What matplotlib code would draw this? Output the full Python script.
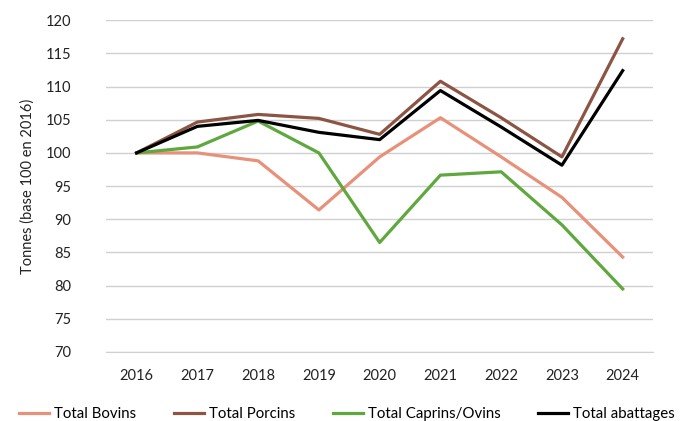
import matplotlib.pyplot as plt

years = ["2016", "2017", "2018", "2019", "2020", "2021", "2022", "2023", "2024"]
bovins = [100, 100, 98.8, 91.4, 99.4, 105.3, 99.4, 93.3, 84.3]
porcins = [100, 104.65, 105.8, 105.2, 102.8, 110.8, 105.3, 99.4, 117.2]
caprins_ovins = [100, 100.9, 104.8, 100.0, 86.5, 96.65, 97.15, 89.15, 79.5]
abattages = [100, 104.0, 104.9, 103.1, 102.0, 109.4, 103.9, 98.15, 112.4]

plt.rcParams['font.family'] = ['Lato', 'DejaVu Sans']

fig = plt.figure(figsize=(6.81, 4.21), dpi=100)
ax = fig.add_axes([0.156, 0.164, 0.803, 0.788])

x = range(len(years))
ax.plot(x, bovins, color='#E8917A', lw=2.3, label="Total Bovins")
ax.plot(x, porcins, color='#8C5442', lw=2.3, label="Total Porcins")
ax.plot(x, caprins_ovins, color='#5EA83E', lw=2.3, label="Total Caprins/Ovins")
ax.plot(x, abattages, color='black', lw=2.3, label="Total abattages")

ax.set_xlim(-0.5, len(years) - 0.5)
ax.set_ylim(70, 120)
ax.set_yticks(range(70, 121, 5))
ax.set_xticks(list(x))
ax.set_xticklabels(years)
ax.yaxis.grid(True, color='#D0D0D0', lw=1)
ax.set_axisbelow(True)
for s in ['top', 'right', 'left']:
    ax.spines[s].set_visible(False)
ax.spines['bottom'].set_color('#D0D0D0')
ax.tick_params(axis='both', length=0, labelsize=10.5, colors='#222222')
ax.tick_params(axis='y', pad=25)
ax.tick_params(axis='x', pad=12)
ax.set_ylabel("Tonnes (base 100 en 2016)", fontsize=10.5, color='#222222', labelpad=8)

ax.legend(loc='upper center', bbox_to_anchor=(0.44, -0.125), ncol=4, frameon=False,
          fontsize=10.8, handlelength=2.0, handletextpad=0.35, columnspacing=2.5)

fig.savefig("out.png", dpi=100)
